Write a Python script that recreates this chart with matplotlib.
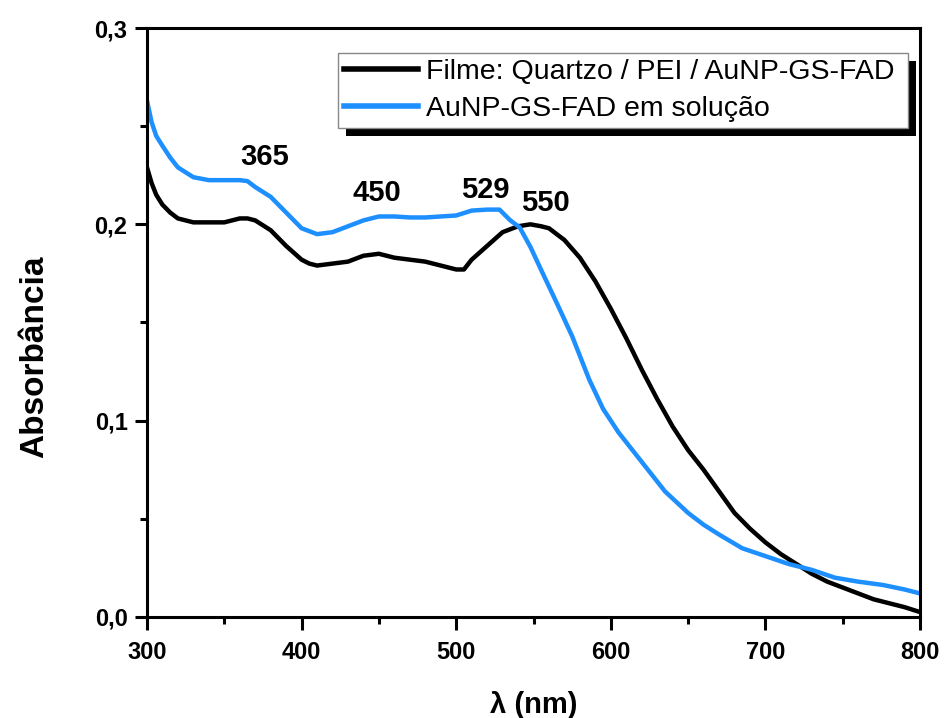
import matplotlib
matplotlib.use('Agg')
import matplotlib.pyplot as plt
from matplotlib.patches import Rectangle
from matplotlib.transforms import IdentityTransform
from matplotlib.ticker import MultipleLocator, FuncFormatter

plt.rcParams['font.family'] = ['Liberation Sans', 'DejaVu Sans']

# film: Quartzo / PEI / AuNP-GS-FAD
wl_film = [300, 303, 306, 310, 315, 320, 330, 340, 350, 360, 365, 370, 380, 390,
           400, 405, 410, 420, 430, 440, 450, 460, 470, 480, 490, 500, 505, 510,
           520, 530, 540, 548, 555, 560, 570, 580, 590, 600, 610, 620, 630, 640,
           650, 660, 670, 680, 690, 700, 710, 720, 730, 740, 750, 760, 770, 780,
           790, 800]
abs_film = [0.229, 0.221, 0.215, 0.210, 0.206, 0.203, 0.201, 0.201, 0.201, 0.203,
            0.203, 0.202, 0.197, 0.189, 0.182, 0.180, 0.179, 0.180, 0.181, 0.184,
            0.185, 0.183, 0.182, 0.181, 0.179, 0.177, 0.177, 0.182, 0.189, 0.196,
            0.199, 0.200, 0.199, 0.198, 0.192, 0.183, 0.171, 0.157, 0.142, 0.126,
            0.111, 0.097, 0.085, 0.075, 0.064, 0.053, 0.045, 0.038, 0.032, 0.027,
            0.022, 0.018, 0.015, 0.012, 0.009, 0.007, 0.005, 0.0025]

# AuNP-GS-FAD in solution
wl_sol = [300, 303, 306, 310, 315, 320, 330, 340, 350, 360, 365, 370, 380, 390,
          400, 410, 420, 430, 440, 450, 460, 470, 480, 490, 500, 510, 520, 528,
          535, 541, 548, 556, 565, 575, 586, 595, 605, 620, 635, 650, 660, 670,
          685, 700, 715, 730, 745, 760, 776, 790, 800]
abs_sol = [0.263, 0.252, 0.245, 0.240, 0.234, 0.229, 0.224, 0.2225, 0.2225, 0.2225,
           0.222, 0.219, 0.214, 0.206, 0.198, 0.195, 0.196, 0.199, 0.202, 0.204,
           0.204, 0.2035, 0.2035, 0.204, 0.2045, 0.207, 0.2075, 0.2075, 0.202,
           0.1985, 0.1885, 0.175, 0.160, 0.143, 0.121, 0.106, 0.094, 0.079, 0.064,
           0.053, 0.047, 0.042, 0.035, 0.031, 0.027, 0.024, 0.020, 0.018, 0.0163,
           0.014, 0.012]

labels = ['Filme: Quartzo / PEI / AuNP-GS-FAD', 'AuNP-GS-FAD em solução']
peak_text = ['365', '450', '529', '550']
peak_pos = [(376, 0.2343), (449, 0.2160), (519, 0.2176), (557.5, 0.2108)]

fig = plt.figure(figsize=(9.44, 7.18), dpi=100)
ax = fig.add_axes([0.1557, 0.1407, 0.8189, 0.8203])

ax.plot(wl_film, abs_film, color='black', lw=3.2, label=labels[0])
ax.plot(wl_sol, abs_sol, color='#1e8fff', lw=3.2, label=labels[1])

for t, (x, y) in zip(peak_text, peak_pos):
    ax.text(x, y, t, fontsize=21, fontweight='bold', ha='center', va='center')

ax.set_xlim(300, 800)
ax.set_ylim(0, 0.3)
ax.xaxis.set_major_locator(MultipleLocator(100))
ax.xaxis.set_minor_locator(MultipleLocator(50))
ax.yaxis.set_major_locator(MultipleLocator(0.1))
ax.yaxis.set_minor_locator(MultipleLocator(0.05))
ax.yaxis.set_major_formatter(FuncFormatter(lambda v, p: ('%.1f' % v).replace('.', ',')))

for s in ax.spines.values():
    s.set_linewidth(2.2)
ax.tick_params(which='major', direction='out', length=9, width=2.2,
               labelsize=17, top=False, right=False)
ax.tick_params(which='minor', direction='out', length=5, width=2.2,
               top=False, right=False)
for lab in ax.get_xticklabels() + ax.get_yticklabels():
    lab.set_fontweight('bold')
ax.tick_params(axis='x', pad=8)
ax.tick_params(axis='y', pad=5)

ax.set_xlabel('λ (nm)', fontsize=21, fontweight='bold', labelpad=20)
ax.set_ylabel('Absorbância', fontsize=24, fontweight='bold')
ax.yaxis.set_label_coords(-0.125, 0.441)

leg = ax.legend(loc='upper left', bbox_to_anchor=(0.247, 0.830, 0.7375, 0.1276),
                mode='expand', borderaxespad=0, fontsize=20.5, handlelength=2.63,
                handletextpad=0.25, labelspacing=0.4, borderpad=0.2,
                fancybox=False, framealpha=1, edgecolor='#888888')
leg.get_frame().set_linewidth(1.0)
for ln in leg.get_lines():
    ln.set_linewidth(4)
leg.set_zorder(6)

fig.canvas.draw()
bb = leg.get_window_extent()
shadow = Rectangle((bb.x0 + 8, bb.y0 - 8), bb.width, bb.height,
                   transform=IdentityTransform(), facecolor='black',
                   edgecolor='none', zorder=5.5)
ax.add_artist(shadow)

fig.savefig('out.png', dpi=100)
